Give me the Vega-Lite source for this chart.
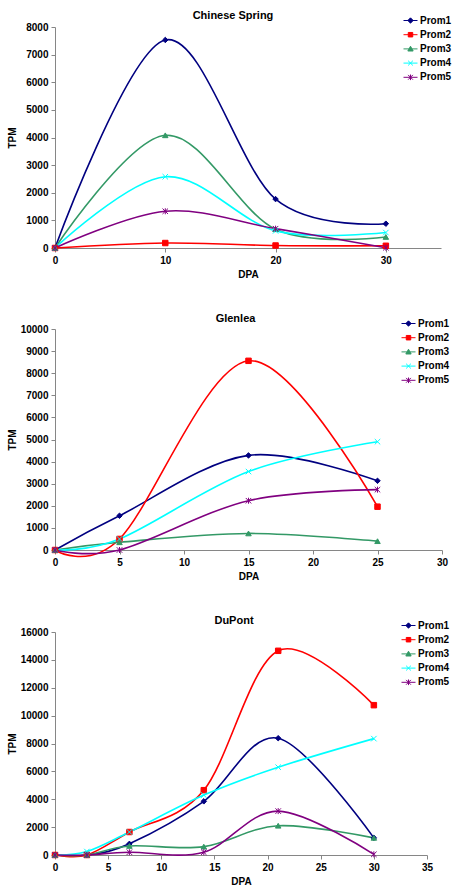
{
  "$schema": "https://vega.github.io/schema/vega-lite/v6.json",
  "background": "white",
  "padding": {"left": 7, "top": 10, "right": 5, "bottom": 5},
  "spacing": 34,
  "datasets": {
    "cs": [
      {"series": "Prom1", "dpa": 0, "tpm": 0}, {"series": "Prom1", "dpa": 10, "tpm": 7530}, {"series": "Prom1", "dpa": 20, "tpm": 1770}, {"series": "Prom1", "dpa": 30, "tpm": 880},
      {"series": "Prom2", "dpa": 0, "tpm": 0}, {"series": "Prom2", "dpa": 10, "tpm": 180}, {"series": "Prom2", "dpa": 20, "tpm": 90}, {"series": "Prom2", "dpa": 30, "tpm": 80},
      {"series": "Prom3", "dpa": 0, "tpm": 0}, {"series": "Prom3", "dpa": 10, "tpm": 4080}, {"series": "Prom3", "dpa": 20, "tpm": 680}, {"series": "Prom3", "dpa": 30, "tpm": 400},
      {"series": "Prom4", "dpa": 0, "tpm": 0}, {"series": "Prom4", "dpa": 10, "tpm": 2580}, {"series": "Prom4", "dpa": 20, "tpm": 620}, {"series": "Prom4", "dpa": 30, "tpm": 560},
      {"series": "Prom5", "dpa": 0, "tpm": 0}, {"series": "Prom5", "dpa": 10, "tpm": 1330}, {"series": "Prom5", "dpa": 20, "tpm": 700}, {"series": "Prom5", "dpa": 30, "tpm": 10}
    ],
    "gl": [
      {"series": "Prom1", "dpa": 0, "tpm": 0}, {"series": "Prom1", "dpa": 5, "tpm": 1550}, {"series": "Prom1", "dpa": 15, "tpm": 4280}, {"series": "Prom1", "dpa": 25, "tpm": 3130},
      {"series": "Prom2", "dpa": 0, "tpm": 0}, {"series": "Prom2", "dpa": 5, "tpm": 500}, {"series": "Prom2", "dpa": 15, "tpm": 8560}, {"series": "Prom2", "dpa": 25, "tpm": 1960},
      {"series": "Prom3", "dpa": 0, "tpm": 0}, {"series": "Prom3", "dpa": 5, "tpm": 350}, {"series": "Prom3", "dpa": 15, "tpm": 750}, {"series": "Prom3", "dpa": 25, "tpm": 400},
      {"series": "Prom4", "dpa": 0, "tpm": 0}, {"series": "Prom4", "dpa": 5, "tpm": 500}, {"series": "Prom4", "dpa": 15, "tpm": 3550}, {"series": "Prom4", "dpa": 25, "tpm": 4900},
      {"series": "Prom5", "dpa": 0, "tpm": 0}, {"series": "Prom5", "dpa": 5, "tpm": 0}, {"series": "Prom5", "dpa": 15, "tpm": 2230}, {"series": "Prom5", "dpa": 25, "tpm": 2730}
    ],
    "dp": [
      {"series": "Prom1", "dpa": 0, "tpm": 0}, {"series": "Prom1", "dpa": 3, "tpm": 0}, {"series": "Prom1", "dpa": 7, "tpm": 800}, {"series": "Prom1", "dpa": 14, "tpm": 3850}, {"series": "Prom1", "dpa": 21, "tpm": 8380}, {"series": "Prom1", "dpa": 30, "tpm": 1230},
      {"series": "Prom2", "dpa": 0, "tpm": 0}, {"series": "Prom2", "dpa": 3, "tpm": 0}, {"series": "Prom2", "dpa": 7, "tpm": 1650}, {"series": "Prom2", "dpa": 14, "tpm": 4650}, {"series": "Prom2", "dpa": 21, "tpm": 14650}, {"series": "Prom2", "dpa": 30, "tpm": 10750},
      {"series": "Prom3", "dpa": 0, "tpm": 0}, {"series": "Prom3", "dpa": 3, "tpm": 0}, {"series": "Prom3", "dpa": 7, "tpm": 650}, {"series": "Prom3", "dpa": 14, "tpm": 600}, {"series": "Prom3", "dpa": 21, "tpm": 2100}, {"series": "Prom3", "dpa": 30, "tpm": 1230},
      {"series": "Prom4", "dpa": 0, "tpm": 0}, {"series": "Prom4", "dpa": 3, "tpm": 250}, {"series": "Prom4", "dpa": 7, "tpm": 1650}, {"series": "Prom4", "dpa": 14, "tpm": 4300}, {"series": "Prom4", "dpa": 21, "tpm": 6300}, {"series": "Prom4", "dpa": 30, "tpm": 8350},
      {"series": "Prom5", "dpa": 0, "tpm": 0}, {"series": "Prom5", "dpa": 3, "tpm": 0}, {"series": "Prom5", "dpa": 7, "tpm": 200}, {"series": "Prom5", "dpa": 14, "tpm": 200}, {"series": "Prom5", "dpa": 21, "tpm": 3150}, {"series": "Prom5", "dpa": 30, "tpm": 50}
    ]
  },
  "config": {
    "font": "Liberation Sans",
    "view": {"stroke": null},
    "axis": {
      "grid": false,
      "domainColor": "#868686",
      "tickColor": "#868686",
      "tickSize": 4,
      "labelPadding": 3,
      "labelFont": "Liberation Sans",
      "labelFontSize": 10,
      "labelFontWeight": "bold",
      "labelColor": "black",
      "titleFont": "Liberation Sans",
      "titleFontSize": 10,
      "titleFontWeight": "bold",
      "titleColor": "black"
    },
    "axisX": {"titlePadding": 4},
    "title": {"font": "Liberation Sans", "fontSize": 11, "fontWeight": "bold", "color": "black", "offset": -8, "anchor": "middle", "frame": "group"},
    "legend": {
      "orient": "none",
      "title": null,
      "labelFont": "Liberation Sans",
      "labelFontSize": 10,
      "labelFontWeight": "bold",
      "labelColor": "black",
      "labelOffset": 2,
      "symbolSize": 196,
      "symbolOpacity": 1,
      "rowPadding": 1.2,
      "symbolStrokeWidth": 1.6
    },
    "line": {"strokeWidth": 1.6, "interpolate": "cardinal", "clip": false},
    "point": {"clip": false, "size": 30, "strokeWidth": 1, "opacity": 1}
  },
  "resolve": {"scale": {"color": "independent", "fill": "independent", "stroke": "independent", "shape": "independent"}, "legend": {"fill": "independent", "stroke": "independent", "shape": "independent"}},
  "vconcat": [
    {
      "title": {"text": "Chinese Spring", "dx": -15},
      "width": 386,
      "height": 221,
      "data": {"name": "cs"},
      "encoding": {
        "x": {"field": "dpa", "type": "quantitative", "title": "DPA", "scale": {"domain": [0, 35], "nice": false}, "axis": {"values": [0, 10, 20, 30], "labelOverlap": false, "labelFlush": false}},
        "y": {"field": "tpm", "type": "quantitative", "title": "TPM", "scale": {"domain": [0, 8000], "nice": false}, "axis": {"values": [0, 1000, 2000, 3000, 4000, 5000, 6000, 7000, 8000], "format": "d", "labelOverlap": false, "labelFlush": false, "titleX": -43, "titleBaseline": "middle"}}
      },
      "layer": [
        {"mark": {"type": "line"}, "encoding": {"color": {"field": "series", "type": "nominal", "scale": {"range": ["#000080", "#FF0000", "#339966", "#00FFFF", "#800080"]}, "legend": null}}},
        {"transform": [{"filter": "datum.series === 'Prom1'"}], "mark": {"type": "point", "shape": "diamond", "fill": "#000080", "stroke": "#000080", "filled": true}},
        {"transform": [{"filter": "datum.series === 'Prom2'"}], "mark": {"type": "point", "shape": "square", "fill": "#FF0000", "stroke": "#FF0000", "filled": true}},
        {"transform": [{"filter": "datum.series === 'Prom3'"}], "mark": {"type": "point", "shape": "triangle-up", "fill": "#339966", "stroke": "#339966", "filled": true}},
        {"transform": [{"filter": "datum.series === 'Prom4'"}], "mark": {"type": "point", "shape": "M-1,-1L1,1M-1,1L1,-1", "fill": "#00FFFF", "stroke": "#00FFFF", "filled": true}},
        {"transform": [{"filter": "datum.series === 'Prom5'"}], "mark": {"type": "point", "shape": "M-1,-1L1,1M-1,1L1,-1M0,-1.1V1.1", "fill": "#800080", "stroke": "#800080", "filled": true}},
        {
          "transform": [{"filter": "false"}],
          "mark": {"type": "point", "filled": true},
          "encoding": {
            "fill": {"field": "series", "type": "nominal", "scale": {"domain": ["Prom1", "Prom2", "Prom3", "Prom4", "Prom5"], "range": ["#000080", "#FF0000", "#339966", "#00FFFF", "#800080"]}, "legend": {"legendX": 348, "legendY": -14}},
            "stroke": {"field": "series", "type": "nominal", "scale": {"domain": ["Prom1", "Prom2", "Prom3", "Prom4", "Prom5"], "range": ["#000080", "#FF0000", "#339966", "#00FFFF", "#800080"]}, "legend": {"legendX": 348, "legendY": -14}},
            "shape": {"field": "series", "type": "nominal", "scale": {"domain": ["Prom1", "Prom2", "Prom3", "Prom4", "Prom5"], "range": ["M-1,0H1M0,-0.38L0.38,0L0,0.38L-0.38,0Z", "M-1,0H1M-0.32,-0.32H0.32V0.32H-0.32Z", "M-1,0H1M0,-0.38L0.38,0.3H-0.38Z", "M-1,0H1M-0.34,-0.34L0.34,0.34M-0.34,0.34L0.34,-0.34", "M-1,0H1M-0.34,-0.34L0.34,0.34M-0.34,0.34L0.34,-0.34M0,-0.4V0.4"]}, "legend": {"legendX": 348, "legendY": -14}}
          }
        }
      ]
    },
    {
      "title": {"text": "Glenlea", "dx": -13},
      "width": 387,
      "height": 221,
      "data": {"name": "gl"},
      "encoding": {
        "x": {"field": "dpa", "type": "quantitative", "title": "DPA", "scale": {"domain": [0, 30], "nice": false}, "axis": {"values": [0, 5, 10, 15, 20, 25, 30], "labelOverlap": false, "labelFlush": false}},
        "y": {"field": "tpm", "type": "quantitative", "title": "TPM", "scale": {"domain": [0, 10000], "nice": false}, "axis": {"values": [0, 1000, 2000, 3000, 4000, 5000, 6000, 7000, 8000, 9000, 10000], "format": "d", "labelOverlap": false, "labelFlush": false, "titleX": -43, "titleBaseline": "middle"}}
      },
      "layer": [
        {"mark": {"type": "line"}, "encoding": {"color": {"field": "series", "type": "nominal", "scale": {"range": ["#000080", "#FF0000", "#339966", "#00FFFF", "#800080"]}, "legend": null}}},
        {"transform": [{"filter": "datum.series === 'Prom1'"}], "mark": {"type": "point", "shape": "diamond", "fill": "#000080", "stroke": "#000080", "filled": true}},
        {"transform": [{"filter": "datum.series === 'Prom2'"}], "mark": {"type": "point", "shape": "square", "fill": "#FF0000", "stroke": "#FF0000", "filled": true}},
        {"transform": [{"filter": "datum.series === 'Prom3'"}], "mark": {"type": "point", "shape": "triangle-up", "fill": "#339966", "stroke": "#339966", "filled": true}},
        {"transform": [{"filter": "datum.series === 'Prom4'"}], "mark": {"type": "point", "shape": "M-1,-1L1,1M-1,1L1,-1", "fill": "#00FFFF", "stroke": "#00FFFF", "filled": true}},
        {"transform": [{"filter": "datum.series === 'Prom5'"}], "mark": {"type": "point", "shape": "M-1,-1L1,1M-1,1L1,-1M0,-1.1V1.1", "fill": "#800080", "stroke": "#800080", "filled": true}},
        {
          "transform": [{"filter": "false"}],
          "mark": {"type": "point", "filled": true},
          "encoding": {
            "fill": {"field": "series", "type": "nominal", "scale": {"domain": ["Prom1", "Prom2", "Prom3", "Prom4", "Prom5"], "range": ["#000080", "#FF0000", "#339966", "#00FFFF", "#800080"]}, "legend": {"legendX": 346, "legendY": -13}},
            "stroke": {"field": "series", "type": "nominal", "scale": {"domain": ["Prom1", "Prom2", "Prom3", "Prom4", "Prom5"], "range": ["#000080", "#FF0000", "#339966", "#00FFFF", "#800080"]}, "legend": {"legendX": 346, "legendY": -13}},
            "shape": {"field": "series", "type": "nominal", "scale": {"domain": ["Prom1", "Prom2", "Prom3", "Prom4", "Prom5"], "range": ["M-1,0H1M0,-0.38L0.38,0L0,0.38L-0.38,0Z", "M-1,0H1M-0.32,-0.32H0.32V0.32H-0.32Z", "M-1,0H1M0,-0.38L0.38,0.3H-0.38Z", "M-1,0H1M-0.34,-0.34L0.34,0.34M-0.34,0.34L0.34,-0.34", "M-1,0H1M-0.34,-0.34L0.34,0.34M-0.34,0.34L0.34,-0.34M0,-0.4V0.4"]}, "legend": {"legendX": 346, "legendY": -13}}
          }
        }
      ]
    },
    {
      "title": {"text": "DuPont", "dx": -7},
      "width": 372,
      "height": 223,
      "data": {"name": "dp"},
      "encoding": {
        "x": {"field": "dpa", "type": "quantitative", "title": "DPA", "scale": {"domain": [0, 35], "nice": false}, "axis": {"values": [0, 5, 10, 15, 20, 25, 30, 35], "labelOverlap": false, "labelFlush": false}},
        "y": {"field": "tpm", "type": "quantitative", "title": "TPM", "scale": {"domain": [0, 16000], "nice": false}, "axis": {"values": [0, 2000, 4000, 6000, 8000, 10000, 12000, 14000, 16000], "format": "d", "labelOverlap": false, "labelFlush": false, "titleX": -43, "titleBaseline": "middle"}}
      },
      "layer": [
        {"mark": {"type": "line"}, "encoding": {"color": {"field": "series", "type": "nominal", "scale": {"range": ["#000080", "#FF0000", "#339966", "#00FFFF", "#800080"]}, "legend": null}}},
        {"transform": [{"filter": "datum.series === 'Prom1'"}], "mark": {"type": "point", "shape": "diamond", "fill": "#000080", "stroke": "#000080", "filled": true}},
        {"transform": [{"filter": "datum.series === 'Prom2'"}], "mark": {"type": "point", "shape": "square", "fill": "#FF0000", "stroke": "#FF0000", "filled": true}},
        {"transform": [{"filter": "datum.series === 'Prom3'"}], "mark": {"type": "point", "shape": "triangle-up", "fill": "#339966", "stroke": "#339966", "filled": true}},
        {"transform": [{"filter": "datum.series === 'Prom4'"}], "mark": {"type": "point", "shape": "M-1,-1L1,1M-1,1L1,-1", "fill": "#00FFFF", "stroke": "#00FFFF", "filled": true}},
        {"transform": [{"filter": "datum.series === 'Prom5'"}], "mark": {"type": "point", "shape": "M-1,-1L1,1M-1,1L1,-1M0,-1.1V1.1", "fill": "#800080", "stroke": "#800080", "filled": true}},
        {
          "transform": [{"filter": "false"}],
          "mark": {"type": "point", "filled": true},
          "encoding": {
            "fill": {"field": "series", "type": "nominal", "scale": {"domain": ["Prom1", "Prom2", "Prom3", "Prom4", "Prom5"], "range": ["#000080", "#FF0000", "#339966", "#00FFFF", "#800080"]}, "legend": {"legendX": 346, "legendY": -14}},
            "stroke": {"field": "series", "type": "nominal", "scale": {"domain": ["Prom1", "Prom2", "Prom3", "Prom4", "Prom5"], "range": ["#000080", "#FF0000", "#339966", "#00FFFF", "#800080"]}, "legend": {"legendX": 346, "legendY": -14}},
            "shape": {"field": "series", "type": "nominal", "scale": {"domain": ["Prom1", "Prom2", "Prom3", "Prom4", "Prom5"], "range": ["M-1,0H1M0,-0.38L0.38,0L0,0.38L-0.38,0Z", "M-1,0H1M-0.32,-0.32H0.32V0.32H-0.32Z", "M-1,0H1M0,-0.38L0.38,0.3H-0.38Z", "M-1,0H1M-0.34,-0.34L0.34,0.34M-0.34,0.34L0.34,-0.34", "M-1,0H1M-0.34,-0.34L0.34,0.34M-0.34,0.34L0.34,-0.34M0,-0.4V0.4"]}, "legend": {"legendX": 346, "legendY": -14}}
          }
        }
      ]
    }
  ]
}
